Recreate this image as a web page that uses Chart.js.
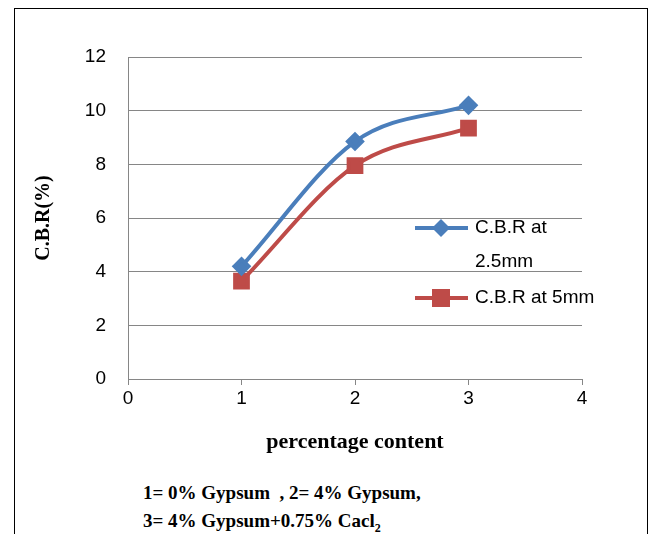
<!DOCTYPE html>
<html><head><meta charset="utf-8">
<script src="https://cdn.jsdelivr.net/npm/chart.js@4"></script>
<style>
html,body{margin:0;padding:0;background:#fff;width:653px;height:534px;overflow:hidden}
#frame{position:absolute;left:14px;top:8px;width:634px;height:540px;border:1px solid #000;box-sizing:border-box}
#wrap{position:absolute;left:0;top:0;width:653px;height:460px}
.cap{position:absolute;left:143px;font:bold 19px "Liberation Serif",serif;color:#000;white-space:pre}
</style></head><body>
<div id="frame"></div>
<div id="wrap"><canvas id="c" width="653" height="460"></canvas></div>
<div class="cap" style="top:482px">1= 0% Gypsum  , 2= 4% Gypsum,</div>
<div class="cap" style="top:510px">3= 4% Gypsum+0.75% Cacl<sub style="font-size:12px">2</sub></div>
<script>
const xVals=[1,2,3];
const cbr25=[4.2,8.85,10.2];
const cbr5=[3.65,7.95,9.35];
const seriesNames=["C.B.R at 2.5mm","C.B.R at 5mm"];
const BLUE="#4a7ebb",RED="#be4b48";
const tickFont={family:"Liberation Sans",size:19};

const legendPlugin={id:"lg",afterDraw(ch){
 const c=ch.ctx;c.save();c.lineWidth=4;
 c.font='19px "Liberation Sans"';c.fillStyle="#000";c.textBaseline="middle";
 c.strokeStyle=BLUE;c.beginPath();c.moveTo(415,228);c.lineTo(468,228);c.stroke();
 c.fillStyle=BLUE;c.beginPath();c.moveTo(441,219);c.lineTo(450,228);c.lineTo(441,237);c.lineTo(432,228);c.closePath();c.fill();
 c.fillStyle="#000";c.fillText("C.B.R at",475,228);c.fillText("2.5mm",475,262);
 c.strokeStyle=RED;c.beginPath();c.moveTo(415,298);c.lineTo(468,298);c.stroke();
 c.fillStyle=RED;c.fillRect(432,289,18,18);
 c.fillStyle="#000";c.fillText("C.B.R at 5mm",475,298);
 c.restore();}};

new Chart(document.getElementById("c"),{type:"line",
 data:{datasets:[
  {label:seriesNames[0],data:xVals.map((x,i)=>({x,y:cbr25[i]})),borderColor:BLUE,backgroundColor:BLUE,borderWidth:4,pointStyle:"rectRot",pointRadius:7,cubicInterpolationMode:"monotone"},
  {label:seriesNames[1],data:xVals.map((x,i)=>({x,y:cbr5[i]})),borderColor:RED,backgroundColor:RED,borderWidth:4,pointStyle:"rect",pointRadius:9,cubicInterpolationMode:"monotone"}]},
 options:{responsive:false,animation:false,devicePixelRatio:1,
  layout:{padding:{left:0,right:71,top:57,bottom:0}},
  plugins:{legend:{display:false},tooltip:{enabled:false}},
  scales:{
   x:{type:"linear",min:0,max:4,grid:{display:true,drawOnChartArea:false,drawTicks:true,tickLength:6,color:"#868686"},border:{color:"#868686"},
      ticks:{stepSize:1,color:"#000",font:tickFont,padding:2},
      title:{display:true,text:"percentage content",color:"#000",font:{family:"Liberation Serif",size:22,weight:"bold"},padding:{top:0}},
      afterFit:s=>{s.height=81}},
   y:{min:0,max:12,grid:{color:"#868686",drawTicks:false},border:{color:"#868686"},
      ticks:{stepSize:2,color:"#000",font:tickFont,padding:22},
      title:{display:true,text:"C.B.R(%)",color:"#000",font:{family:"Liberation Serif",size:20,weight:"bold"},padding:{top:32,bottom:6}},
      afterFit:s=>{s.width=128}}}},
 plugins:[legendPlugin]});
</script>
</body></html>
